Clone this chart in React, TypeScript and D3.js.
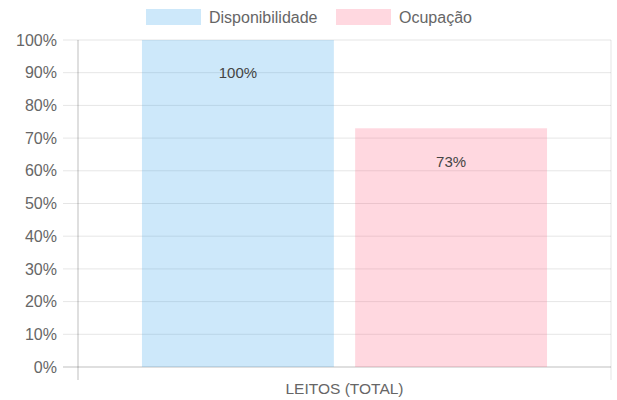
import React from "react";
import * as d3 from "d3";

const categories = ["LEITOS (TOTAL)"];
const seriesNames = ["Disponibilidade", "Ocupação"];
const seriesValues = [[100], [73]];
const yTicks = [0, 10, 20, 30, 40, 50, 60, 70, 80, 90, 100];
const fills = ["rgba(54,162,235,0.25)", "rgba(255,99,132,0.25)"];

const W = 617, H = 400;
const M = { left: 78, right: 611, top: 40, bottom: 367 };
const FONT = "'Liberation Sans', Arial, Helvetica, sans-serif";

export default function App() {
  const y = d3.scaleLinear().domain([0, 100]).range([M.bottom, M.top]);
  const x0 = d3.scaleBand().domain(categories).range([M.left, M.right]).paddingInner(0).paddingOuter(0);
  const catW = x0.bandwidth();
  const x1 = d3
    .scaleBand()
    .domain(seriesNames)
    .range([catW * 0.1, catW * 0.9])
    .paddingInner(0.1)
    .paddingOuter(0.05);

  return (
    <svg width={W} height={H} style={{ position: "absolute", left: 0, top: 0 }} fontFamily={FONT}>
      {/* horizontal grid */}
      {yTicks.map((t) => (
        <g key={t}>
          <line
            x1={M.left - 15}
            x2={M.right}
            y1={y(t)}
            y2={y(t)}
            stroke={t === 0 ? "rgba(0,0,0,0.25)" : "rgba(0,0,0,0.1)"}
            strokeWidth={1}
          />
          <text x={57} y={y(t)} dy="0.35em" textAnchor="end" fontSize={16} fill="#666">
            {t}%
          </text>
        </g>
      ))}
      {/* vertical grid lines */}
      <line x1={M.left} x2={M.left} y1={M.top} y2={M.bottom + 13} stroke="rgba(0,0,0,0.25)" />
      <line x1={M.right} x2={M.right} y1={M.top} y2={M.bottom + 13} stroke="rgba(0,0,0,0.1)" />

      {/* bars */}
      {categories.map((c, ci) => (
        <g key={c} transform={`translate(${x0(c)},0)`}>
          {seriesNames.map((s, si) => {
            const v = seriesValues[si][ci];
            const bx = x1(s)!;
            const bw = x1.bandwidth();
            return (
              <g key={s}>
                <rect x={bx} y={y(v)} width={bw} height={y(0) - y(v)} fill={fills[si]} />
                <text
                  x={bx + bw / 2}
                  y={y(v) + 33}
                  dy="0.35em"
                  textAnchor="middle"
                  fontSize={15}
                  fill="#444"
                >
                  {v}%
                </text>
              </g>
            );
          })}
          <text x={catW / 2} y={389} dy="0.35em" textAnchor="middle" fontSize={15.5} fill="#666">
            {c}
          </text>
        </g>
      ))}

      {/* legend */}
      {seriesNames.map((s, i) => {
        const lx = i === 0 ? 146 : 336;
        return (
          <g key={s}>
            <rect x={lx} y={9} width={55} height={16} fill={fills[i]} />
            <text x={lx + 63} y={17} dy="0.35em" fontSize={16} fill="#666">
              {s}
            </text>
          </g>
        );
      })}
    </svg>
  );
}
